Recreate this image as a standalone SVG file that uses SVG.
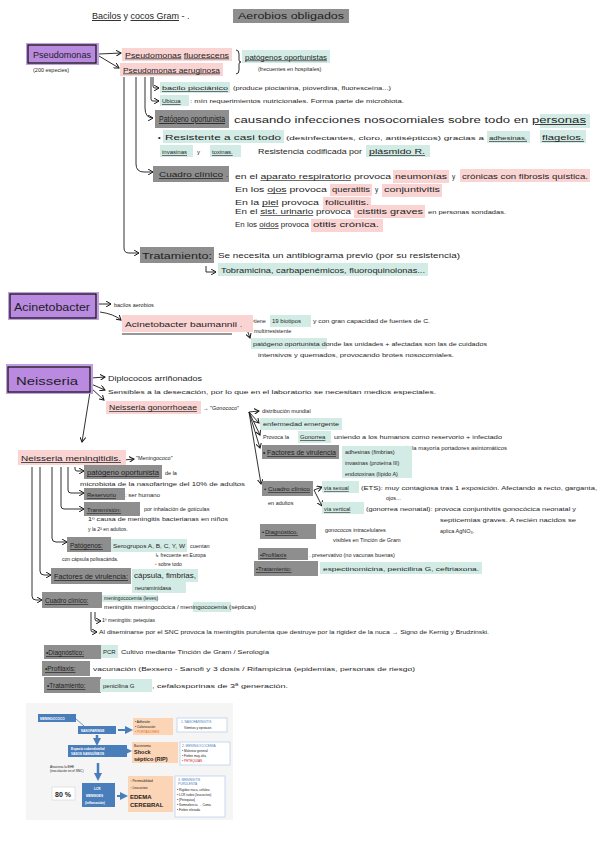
<svg xmlns="http://www.w3.org/2000/svg" width="600" height="848" viewBox="0 0 600 848">
<defs>
<marker id="ar" markerWidth="6" markerHeight="6" refX="5" refY="3" orient="auto" markerUnits="userSpaceOnUse"><path d="M0,0 L5,3 L0,6" fill="none" stroke="#1a1a1a" stroke-width="1"/></marker>
<marker id="ab" markerWidth="8" markerHeight="8" refX="4" refY="4" orient="auto" markerUnits="userSpaceOnUse"><path d="M0,0 L8,4 L0,8 Z" fill="#4a7ebb"/></marker>
</defs>
<style>
text{font-family:"Liberation Sans",Arial,sans-serif;fill:#1e1e1e}
.s5{font-size:5px}.s55{font-size:5.5px}.s6{font-size:6px}.s65{font-size:6.5px}.s7{font-size:7px}.s75{font-size:7.5px}.s85{font-size:8.5px}.s9{font-size:9px}.s11{font-size:11px}
.u{text-decoration:underline}
.pk{fill:#f9d4d3}.tl{fill:#d3ebe5}.gy{fill:#8e8e8e}
.pu{fill:#b98ae0;stroke:#1a1a1a;stroke-width:1.3}
.pus{fill:#c39de6}
.ln{stroke:#1a1a1a;fill:none;stroke-width:0.9}
.bb{fill:#4a7ebb}.pe{fill:#fbd5b5}.wb{fill:#fff;stroke:#bcd3ea;stroke-width:0.8}
.bt{font-size:3.2px;fill:#fff;font-weight:bold}.dt{font-size:3.2px;fill:#222}
</style>
<rect width="600" height="848" fill="#ffffff"/>

<g id="title">
<rect x="233" y="9" width="116" height="14" class="gy"/>
<text x="92" y="19" class="s9"><tspan class="u">Bacilos</tspan> y <tspan class="u">cocos Gram</tspan> - .</text>
<text x="238" y="19" class="s9" textLength="106" lengthAdjust="spacingAndGlyphs">Aerobios obligados</text>
</g>

<g id="connectors">
<path class="ln" marker-end="url(#ar)" d="M99,54 L121,53"/>
<path class="ln" marker-end="url(#ar)" d="M99,56 L119,68"/>
<path class="ln" d="M236,50 q3,0 3,4 v6 q0,2 2,2 q-2,0 -2,2 v6 q0,4 -3,4"/>
<path class="ln" marker-end="url(#ar)" d="M124,77 V248 q0,5 5,5 H139"/>
<path class="ln" marker-end="url(#ar)" d="M136,77 V164 q0,8 8,8 H153"/>
<path class="ln" marker-end="url(#ar)" d="M145,77 V108 q0,10 8,10"/>
<path class="ln" marker-end="url(#ar)" d="M151,77 V99 q0,2 2,2 H159"/>
<path class="ln" marker-end="url(#ar)" d="M153,77 V86 q0,2 2,2 H159"/>
<path class="ln" marker-end="url(#ar)" d="M206,266 V272 H216"/>
<path class="ln" marker-end="url(#ar)" d="M99,304 L111,304"/>
<path class="ln" marker-end="url(#ar)" d="M100,312 q14,2 21,8"/>
<path class="ln" marker-end="url(#ar)" d="M244,322 L253,321"/>
<path class="ln" marker-end="url(#ar)" d="M245,324 L250,338"/>
<path class="ln" marker-end="url(#ar)" d="M91,378 L105,377"/>
<path class="ln" marker-end="url(#ar)" d="M91,384 L105,390"/>
<path class="ln" marker-end="url(#ar)" d="M91,388 L104,400"/>
<path class="ln" marker-end="url(#ar)" d="M90,392 L82,442"/>
<path class="ln" marker-end="url(#ar)" d="M249,412 L259,411"/>
<path class="ln" marker-end="url(#ar)" d="M249,412 L259,423"/>
<path class="ln" marker-end="url(#ar)" d="M249,412 L260,435"/>
<path class="ln" marker-end="url(#ar)" d="M249,412 L260,448"/>
<path class="ln" marker-end="url(#ar)" d="M249,412 L261,484"/>
<path class="ln" marker-end="url(#ar)" d="M314,490 L322,487"/>
<path class="ln" marker-end="url(#ar)" d="M314,490 L322,506"/>
<path class="ln" marker-end="url(#ar)" d="M32,467 V596 q0,4 4,4 H42"/>
<path class="ln" marker-end="url(#ar)" d="M40,467 V571 q0,4 4,4 H51"/>
<path class="ln" marker-end="url(#ar)" d="M52,467 V538 q0,4 4,4 H67"/>
<path class="ln" marker-end="url(#ar)" d="M61,467 V506 q0,3 3,3 H84"/>
<path class="ln" marker-end="url(#ar)" d="M68,467 V490 q0,3 3,3 H84"/>
<path class="ln" marker-end="url(#ar)" d="M75,467 V469 q0,2 2,2 H84"/>
<path class="ln" marker-end="url(#ar)" d="M124,460 L134,459"/>
<path class="ln" marker-end="url(#ar)" d="M91,612 V630 q0,2 2,2 H97"/>
<path class="ln" marker-end="url(#ar)" d="M95,612 V619 q0,2 2,2 H101"/>
</g>

<g id="pseudomonas">
<rect x="26" y="43" width="73" height="22" class="pus"/>
<rect x="28" y="45" width="68" height="18" class="pu"/>
<text x="33" y="58" class="s9" textLength="58" lengthAdjust="spacingAndGlyphs">Pseudomonas</text>
<text x="33" y="72" class="s55">(200 especies)</text>
</g>
<g id="p-fluorescens">
<rect x="122" y="48" width="110" height="13" class="pk"/>
<text x="125" y="57.5" class="s7" textLength="104" lengthAdjust="spacingAndGlyphs"><tspan class="u">Pseudomonas</tspan> <tspan class="u">fluorescens</tspan></text>
</g>
<g id="p-aeruginosa">
<rect x="120" y="63" width="103" height="13" class="pk"/>
<text x="123" y="72.5" class="s7 u" textLength="97" lengthAdjust="spacingAndGlyphs">Pseudomonas aeruginosa</text>
</g>
<g id="p-oportunistas">
<rect x="242" y="50" width="88" height="13" class="tl"/>
<text x="245" y="59.5" class="s65 u" textLength="82" lengthAdjust="spacingAndGlyphs">patógenos oportunistas</text>
<text x="258" y="71" class="s55">(frecuentes en hospitales)</text>
</g>
<g id="p-bacilo">
<rect x="160" y="82" width="70" height="11" class="tl"/>
<text x="162" y="90" class="s6 u" textLength="66" lengthAdjust="spacingAndGlyphs">bacilo piociánico</text>
<text x="233" y="90" class="s55" textLength="158" lengthAdjust="spacingAndGlyphs">(produce piocianina, pioverdina, fluoresceína...)</text>
</g>
<g id="p-ubicua">
<rect x="160" y="95" width="29" height="11" class="tl"/>
<text x="162" y="103" class="s6 u">Ubicua</text>
<text x="190" y="103" class="s55" textLength="214" lengthAdjust="spacingAndGlyphs">: mín requerimientos nutricionales. Forma parte de microbiota.</text>
</g>
<g id="p-patogeno">
<rect x="155" y="110" width="74" height="18" class="gy"/>
<rect x="540" y="114" width="50" height="14" class="tl"/>
<text x="159" y="122" class="s85 u" textLength="66" lengthAdjust="spacingAndGlyphs">Patógeno oportunista</text>
<text x="234" y="123" class="s85" textLength="352" lengthAdjust="spacingAndGlyphs">causando infecciones nosocomiales sobre todo en <tspan class="u">personas</tspan></text>
<rect x="163" y="130" width="121" height="13" class="tl"/>
<rect x="487" y="131" width="43" height="12" class="tl"/>
<rect x="540" y="130" width="46" height="13" class="tl"/>
<text x="158" y="140" class="s75">•</text>
<text x="165" y="140" class="s75" textLength="116" lengthAdjust="spacingAndGlyphs">Resistente a casi todo</text>
<text x="286" y="140" class="s6" textLength="198" lengthAdjust="spacingAndGlyphs">(desinfectantes, cloro, antisépticos) gracias a</text>
<text x="489" y="140" class="s6 u" textLength="38" lengthAdjust="spacingAndGlyphs">adhesinas,</text>
<text x="542" y="140" class="s65 u" textLength="42" lengthAdjust="spacingAndGlyphs">flagelos.</text>
<rect x="160" y="145" width="33" height="12" class="tl"/>
<rect x="210" y="145" width="31" height="12" class="tl"/>
<rect x="366" y="145" width="64" height="12" class="tl"/>
<text x="162" y="154" class="s6 u">invasinas</text>
<text x="197" y="154" class="s6">y</text>
<text x="212" y="154" class="s6 u">toxinas.</text>
<text x="258" y="154" class="s65" textLength="104" lengthAdjust="spacingAndGlyphs">Resistencia codificada por</text>
<text x="369" y="154" class="s65 u" textLength="56" lengthAdjust="spacingAndGlyphs">plásmido R.</text>
</g>
<g id="p-cuadro">
<rect x="153" y="166" width="76" height="16" class="gy"/>
<text x="159" y="177" class="s75 u" textLength="64" lengthAdjust="spacingAndGlyphs">Cuadro clínico</text>
<text x="226" y="177" class="s75">.</text>
<rect x="393" y="170" width="56" height="13" class="pk"/>
<rect x="460" y="169" width="130" height="13" class="pk"/>
<text x="235" y="179" class="s65" textLength="156" lengthAdjust="spacingAndGlyphs">en el <tspan class="u">aparato respiratorio</tspan> provoca</text>
<text x="395" y="179" class="s65" textLength="52" lengthAdjust="spacingAndGlyphs">neumonías</text>
<text x="452" y="179" class="s65">y</text>
<text x="462" y="179" class="s65" textLength="126" lengthAdjust="spacingAndGlyphs">crónicas con fibrosis quística.</text>
<rect x="330" y="184" width="42" height="12" class="pk"/>
<rect x="382" y="184" width="60" height="13" class="pk"/>
<text x="235" y="192" class="s65" textLength="92" lengthAdjust="spacingAndGlyphs">En los <tspan class="u">ojos</tspan> provoca</text>
<text x="332" y="192" class="s65" textLength="38" lengthAdjust="spacingAndGlyphs">queratitis</text>
<text x="375" y="192" class="s65">y</text>
<text x="384" y="192" class="s65" textLength="56" lengthAdjust="spacingAndGlyphs">conjuntivitis</text>
<rect x="323" y="197" width="48" height="13" class="pk"/>
<text x="235" y="205" class="s65" textLength="84" lengthAdjust="spacingAndGlyphs">En la <tspan class="u">piel</tspan> provoca</text>
<text x="325" y="205" class="s65" textLength="44" lengthAdjust="spacingAndGlyphs">foliculitis.</text>
<rect x="354" y="205" width="71" height="13" class="pk"/>
<text x="235" y="214" class="s65" textLength="116" lengthAdjust="spacingAndGlyphs">En el <tspan class="u">sist. urinario</tspan> provoca</text>
<text x="357" y="214" class="s65" textLength="66" lengthAdjust="spacingAndGlyphs">cistitis graves</text>
<text x="428" y="214" class="s55" textLength="78" lengthAdjust="spacingAndGlyphs">en personas sondadas.</text>
<rect x="311" y="219" width="72" height="13" class="pk"/>
<text x="235" y="227" class="s65" textLength="74" lengthAdjust="spacingAndGlyphs">En los <tspan class="u">oídos</tspan> provoca</text>
<text x="313" y="227" class="s65" textLength="66" lengthAdjust="spacingAndGlyphs">otitis crónica.</text>
</g>
<g id="p-tratamiento">
<rect x="140" y="247" width="74" height="16" class="gy"/>
<text x="142" y="259" class="s9" textLength="70" lengthAdjust="spacingAndGlyphs">Tratamiento:</text>
<text x="218" y="258" class="s65" textLength="242" lengthAdjust="spacingAndGlyphs">Se necesita un antibiograma previo (por su resistencia)</text>
<rect x="218" y="263" width="210" height="13" class="tl"/>
<text x="221" y="273" class="s7" textLength="204" lengthAdjust="spacingAndGlyphs">Tobramicina, carbapenémicos, fluoroquinolonas...</text>
</g>

<g id="acinetobacter">
<rect x="8" y="292" width="91" height="28" class="pus"/>
<rect x="10" y="294" width="86" height="24" class="pu"/>
<text x="14" y="311" class="s11" textLength="76" lengthAdjust="spacingAndGlyphs">Acinetobacter</text>
<text x="114" y="307" class="s55">bacilos aerobios</text>
</g>
<g id="a-baumannii">
<rect x="122" y="315" width="131" height="17" class="pk"/>
<text x="125" y="327" class="s75" textLength="112" lengthAdjust="spacingAndGlyphs">Acinetobacter baumannii</text>
<path class="ln" d="M122,334 H232"/>
<text x="240" y="327" class="s75">.</text>
<rect x="270" y="315" width="41" height="12" class="tl"/>
<text x="254" y="323" class="s55">tiene</text>
<text x="272" y="323" class="s6">19 biotipos</text>
<text x="313" y="323" class="s55" textLength="117" lengthAdjust="spacingAndGlyphs">y con gran capacidad de fuentes de C.</text>
<text x="254" y="333" class="s55">multirresistente</text>
<rect x="251" y="338" width="76" height="11" class="tl"/>
<text x="253" y="346" class="s55" textLength="234" lengthAdjust="spacingAndGlyphs">patógeno oportunista donde las unidades + afectadas son las de cuidados</text>
<text x="258" y="357" class="s55" textLength="196" lengthAdjust="spacingAndGlyphs">intensivos y quemados, provocando brotes nosocomiales.</text>
</g>

<g id="neisseria">
<rect x="6" y="364" width="87" height="30" class="pus"/>
<rect x="8" y="367" width="82" height="25" class="pu"/>
<text x="16" y="385" class="s11" textLength="62" lengthAdjust="spacingAndGlyphs">Neisseria</text>
<text x="108" y="381" class="s65" textLength="94" lengthAdjust="spacingAndGlyphs">Diplococos arriñonados</text>
<text x="108" y="394" class="s6" textLength="328" lengthAdjust="spacingAndGlyphs">Sensibles a la desecación, por lo que en el laboratorio se necesitan medios especiales.</text>
</g>
<g id="n-gonorrhoeae">
<rect x="106" y="401" width="95" height="13" class="pk"/>
<text x="109" y="410" class="s65 u" textLength="88" lengthAdjust="spacingAndGlyphs">Neisseria gonorrhoeae</text>
<text x="203" y="410" class="s55">→ "Gonococo"</text>
<text x="262" y="413" class="s55">distribución mundial</text>
<rect x="260" y="418" width="82" height="12" class="tl"/>
<text x="263" y="426" class="s6" textLength="76" lengthAdjust="spacingAndGlyphs">enfermedad emergente</text>
<rect x="298" y="431" width="33" height="12" class="tl"/>
<text x="263" y="439" class="s55">Provoca la</text>
<text x="300" y="439" class="s6 u">Gonorrea</text>
<text x="334" y="439" class="s55" textLength="168" lengthAdjust="spacingAndGlyphs">uniendo a los humanos como reservorio + infectado</text>
<text x="405" y="450" class="s55" textLength="102" lengthAdjust="spacingAndGlyphs">↳ la mayoría portadores asintomáticos</text>
<rect x="262" y="445" width="77" height="14" class="gy"/>
<text x="263" y="455" class="s65">•</text>
<text x="267" y="455" class="s65 u" textLength="69" lengthAdjust="spacingAndGlyphs">Factores de virulencia</text>
<rect x="342" y="446" width="70" height="32" class="tl"/>
<text x="345" y="454" class="s55">adhesinas (fimbrias)</text>
<text x="345" y="465" class="s55">invasinas (proteína III)</text>
<text x="345" y="476" class="s55">endotoxinas (lípido A)</text>
<rect x="262" y="481" width="51" height="15" class="gy"/>
<text x="264" y="491" class="s6">•</text>
<text x="268" y="491" class="s6 u" textLength="42" lengthAdjust="spacingAndGlyphs">Cuadro clínico</text>
<text x="268" y="505" class="s55">en adultos</text>
<rect x="322" y="481" width="37" height="12" class="tl"/>
<text x="324" y="490" class="s55 u">vía sexual</text>
<text x="361" y="490" class="s55" textLength="236" lengthAdjust="spacingAndGlyphs">(ETS): muy contagiosa tras 1 exposición. Afectando a recto, garganta,</text>
<text x="386" y="500" class="s55">ojos...</text>
<rect x="322" y="502" width="42" height="12" class="tl"/>
<text x="324" y="511" class="s55 u">vía vertical</text>
<text x="366" y="511" class="s55" textLength="210" lengthAdjust="spacingAndGlyphs">(gonorrea neonatal): provoca conjuntivitis gonocócica neonatal y</text>
<text x="440" y="522" class="s55" textLength="136" lengthAdjust="spacingAndGlyphs">septicemias graves. A recién nacidos se</text>
<text x="440" y="533" class="s55">aplica AgNO₃.</text>
<rect x="260" y="524" width="56" height="15" class="gy"/>
<text x="262" y="534" class="s6">•</text>
<text x="265" y="534" class="s6 u">Diagnóstico.</text>
<text x="325" y="532" class="s55">gonococos intracelulares</text>
<text x="333" y="542" class="s55">visibles en Tinción de Gram</text>
<rect x="258" y="548" width="50" height="12" class="gy"/>
<text x="260" y="557" class="s6 u">•Profilaxis</text>
<text x="309" y="557" class="s55">. preservativo (no vacunas buenas)</text>
<rect x="254" y="561" width="64" height="15" class="gy"/>
<text x="256" y="571" class="s6 u">•Tratamiento:</text>
<rect x="320" y="562" width="162" height="12" class="tl"/>
<text x="323" y="571" class="s6" textLength="156" lengthAdjust="spacingAndGlyphs">espectinomicina, penicilina G, ceftriaxona.</text>
</g>

<g id="n-meningitidis">
<rect x="18" y="450" width="108" height="15" class="pk"/>
<text x="21" y="461" class="s75 u" textLength="100" lengthAdjust="spacingAndGlyphs">Neisseria meningitidis.</text>
<text x="136" y="460" class="s55">"Meningococo"</text>
<rect x="84" y="465" width="78" height="14" class="gy"/>
<text x="87" y="475" class="s65 u" textLength="72" lengthAdjust="spacingAndGlyphs">patógeno oportunista</text>
<text x="165" y="475" class="s55">de la</text>
<text x="80" y="486" class="s5" textLength="165" lengthAdjust="spacingAndGlyphs">microbiota de la nasofaringe del 10% de adultos</text>
<rect x="84" y="488" width="41" height="12" class="gy"/>
<text x="87" y="497" class="s6 u">Reservorio</text>
<text x="125" y="497" class="s6">: ser humano</text>
<rect x="84" y="502" width="56" height="14" class="gy"/>
<text x="87" y="512" class="s6 u">Transmisión:</text>
<text x="144" y="511" class="s55">por inhalación de gotículas</text>
<text x="88" y="521" class="s5" textLength="140" lengthAdjust="spacingAndGlyphs">1º causa de meningitis bacterianas en niños</text>
<text x="88" y="531" class="s5">y la 2ª en adultos.</text>
<rect x="67" y="537" width="44" height="15" class="gy"/>
<text x="70" y="548" class="s65 u">Patógenos:</text>
<rect x="111" y="539" width="76" height="13" class="tl"/>
<text x="113" y="548" class="s6" textLength="72" lengthAdjust="spacingAndGlyphs">Serogrupos A, B, C, Y, W</text>
<text x="190" y="548" class="s55">cuentan</text>
<text x="62" y="561" class="s5">con cápsula polisacárida.</text>
<text x="155" y="557" class="s5">↳ frecuente en Europa</text>
<rect x="51" y="568" width="80" height="16" class="gy"/>
<text x="54" y="579" class="s7 u" textLength="74" lengthAdjust="spacingAndGlyphs">Factores de virulencia:</text>
<text x="155" y="566" class="s5"><tspan fill="#f08a4b">•</tspan> sobre todo</text>
<rect x="132" y="569" width="66" height="13" class="tl"/>
<text x="134" y="578" class="s65" textLength="62" lengthAdjust="spacingAndGlyphs">cápsula, fimbrias,</text>
<rect x="132" y="582" width="54" height="11" class="tl"/>
<text x="135" y="590" class="s55">neuraminidasa</text>
<rect x="42" y="592" width="60" height="16" class="gy"/>
<text x="45" y="603" class="s65 u">Cuadro clínico:</text>
<rect x="102" y="595" width="56" height="7" class="tl"/>
<rect x="193" y="602" width="38" height="10" class="tl"/>
<text x="104" y="600" class="s5">meningococemia (leves)</text>
<text x="104" y="609" class="s5" textLength="152" lengthAdjust="spacingAndGlyphs">meningitis meningocócica / meningococemia (sépticas)</text>
<text x="102" y="622" class="s5">1º meningitis: petequias</text>
<text x="99" y="634" class="s5" textLength="390" lengthAdjust="spacingAndGlyphs">Al diseminarse por el SNC provoca la meningitis purulenta que destruye por la rigidez de la nuca → Signo de Kernig y Brudzinski.</text>
</g>

<g id="n-diagnostico">
<rect x="44" y="645" width="57" height="14" class="gy"/>
<text x="46" y="655" class="s65 u">•Diagnóstico:</text>
<rect x="101" y="645" width="17" height="13" class="tl"/>
<text x="103" y="654" class="s6">PCR</text>
<text x="121" y="654" class="s55" textLength="148" lengthAdjust="spacingAndGlyphs">Cultivo mediante Tinción de Gram / Serología</text>
</g>
<g id="n-profilaxis">
<rect x="42" y="661" width="48" height="15" class="gy"/>
<text x="45" y="671" class="s65 u">•Profilaxis:</text>
<text x="93" y="671" class="s55" textLength="322" lengthAdjust="spacingAndGlyphs">vacunación (Bexsero - Sanofi y 3 dosis / Rifampicina (epidemias, personas de riesgo)</text>
</g>
<g id="n-tratamiento">
<rect x="44" y="677" width="57" height="16" class="gy"/>
<text x="47" y="688" class="s65 u">•Tratamiento:</text>
<rect x="100" y="679" width="52" height="13" class="tl"/>
<text x="103" y="688" class="s6">penicilina G</text>
<text x="152" y="688" class="s6" textLength="136" lengthAdjust="spacingAndGlyphs">, cefalosporinas de 3ª generación.</text>
</g>

<g id="figure">
<rect x="26" y="703" width="207" height="117" fill="#f5f5f5"/>
<rect x="38" y="714" width="38" height="8" class="bb"/>
<text x="40" y="719.5" class="bt">MENINGOCOCO</text>
<path d="M76,719 L84,726" stroke="#4a7ebb" stroke-width="0.8"/>
<rect x="78" y="726" width="38" height="8" class="bb"/>
<text x="81" y="731.5" class="bt">NASOFARINGE</text>
<path d="M118,730 H129" stroke="#4a7ebb" stroke-width="2" marker-end="url(#ab)"/>
<rect x="133" y="718" width="40" height="17" class="pe"/>
<text x="135" y="723" class="dt">• Adhesión</text>
<text x="135" y="728" class="dt">• Colonización</text>
<text x="135" y="733" class="dt" fill="#e06a1a" style="fill:#e06a1a">• PORTADORES</text>
<rect x="177" y="718" width="50" height="14" class="wb"/>
<text x="181" y="723" class="dt" style="fill:#4a7ebb">1. NASOFARINGITIS</text>
<text x="184" y="729" class="dt">Vómitos y epistaxis</text>
<path d="M97,735 V742" stroke="#4a7ebb" stroke-width="2.5" marker-end="url(#ab)"/>
<rect x="68" y="745" width="59" height="12" class="bb"/>
<text x="71" y="750" class="bt">Espacio subendotelial</text>
<text x="71" y="755" class="bt">VASOS SANGUÍNEOS</text>
<path d="M127,751 H128" stroke="#4a7ebb" stroke-width="2" marker-end="url(#ab)"/>
<rect x="132" y="742" width="46" height="21" class="pe"/>
<text x="134" y="747" class="dt">Bacteriemia</text>
<text x="134" y="754" style="font-size:5.5px;font-weight:bold">Shock</text>
<text x="134" y="761" style="font-size:5.5px;font-weight:bold">séptico (RIP)</text>
<rect x="180" y="742" width="50" height="23" class="wb"/>
<text x="182" y="747" class="dt" style="fill:#4a7ebb">2. MENINGOCOCEMIA</text>
<text x="182" y="752" class="dt">• Malestar general</text>
<text x="182" y="757" class="dt">• Fiebre muy alta</text>
<text x="182" y="762" class="dt" style="fill:#d02020">• PETEQUIAS</text>
<text x="50" y="768" class="dt">Atraviesa la BHE</text>
<text x="50" y="772" class="dt">(inoculación en el SNC)</text>
<path d="M98,763 V777" stroke="#4a7ebb" stroke-width="2.5" marker-end="url(#ab)"/>
<rect x="52" y="787" width="23" height="13" fill="#fff" stroke="#ccc" stroke-width="0.5"/>
<text x="55" y="797" style="font-size:7px;font-weight:bold">80 %</text>
<rect x="82" y="783" width="33" height="24" class="bb"/>
<text x="94" y="790" class="bt">LCR</text>
<text x="86" y="797" class="bt">MENINGES</text>
<text x="85" y="804" class="bt">(inflamación)</text>
<path d="M117,796 H124" stroke="#4a7ebb" stroke-width="2" marker-end="url(#ab)"/>
<rect x="128" y="776" width="45" height="36" class="pe"/>
<text x="130" y="782" class="dt">↑ Permeabilidad</text>
<text x="130" y="789" class="dt">↑ Leucocitos</text>
<text x="130" y="799" style="font-size:6px;font-weight:bold">EDEMA</text>
<text x="130" y="807" style="font-size:6px;font-weight:bold">CEREBRAL</text>
<rect x="175" y="776" width="50" height="41" class="wb"/>
<text x="178" y="781" class="dt" style="fill:#4a7ebb">3. MENINGITIS</text>
<text x="178" y="785" class="dt" style="fill:#4a7ebb">PURULENTA</text>
<text x="177" y="791" class="dt">• Rigidez nuca, cefalea</text>
<text x="177" y="796" class="dt">• LCR turbio (leucocitos)</text>
<text x="177" y="801" class="dt">• [Petequias]</text>
<text x="177" y="806" class="dt">• Somnolencia → Coma</text>
<text x="177" y="811" class="dt">• Fiebre elevada</text>
</g>
</svg>
